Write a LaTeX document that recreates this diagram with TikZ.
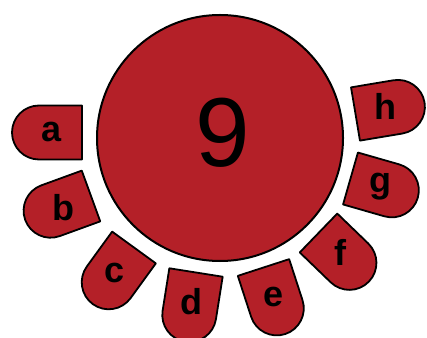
\documentclass[tikz,border=0pt]{standalone}
\usepackage{fontspec}
\setmainfont{Liberation Sans}
\definecolor{petalred}{RGB}{180,32,40}
\tikzset{
  petalshape/.style={draw=black, fill=petalred, line width=1.8pt, line join=round},
  lettertext/.style={inner sep=0pt, anchor=base, font=\fontsize{36}{36}\selectfont\bfseries},
}
\newcommand{\mypetal}[3]{%
  \begin{scope}[shift={(#1,#2)}, rotate=#3]
    \draw[petalshape] (0,-27) -- (43,-27) arc (-90:90:27) -- (0,27) -- cycle;
  \end{scope}}
\begin{document}
\begin{tikzpicture}[x=1pt, y=1pt]
\useasboundingbox (0,0) rectangle (427,337);
\node[circle, draw=black, fill=petalred, line width=2pt, minimum size=246pt, inner sep=0pt] (main) at (220,199) {};
\node[inner sep=0pt, font=\fontsize{98}{98}\selectfont] (nine) at (223,204) {9};
\mypetal{82}{204.5}{180}
\mypetal{91}{141}{200}
\mypetal{134}{89.5}{234}
\mypetal{196}{64.5}{261}
\mypetal{263.5}{69.5}{288}
\mypetal{318.5}{104}{316}
\mypetal{350.5}{158.5}{344}
\mypetal{355.5}{223}{9.5}
\node[lettertext] (la) at (52,195.3) {a};
\node[lettertext] (lb) at (63,117) {b};
\node[lettertext] (lc) at (115,54.3) {c};
\node[lettertext] (ld) at (191.7,23) {d};
\node[lettertext] (le) at (274,30.3) {e};
\node[lettertext] (lf) at (340,72) {f};
\node[lettertext] (lg) at (380,144) {g};
\node[lettertext] (lh) at (385,217) {h};
\end{tikzpicture}
\end{document}
